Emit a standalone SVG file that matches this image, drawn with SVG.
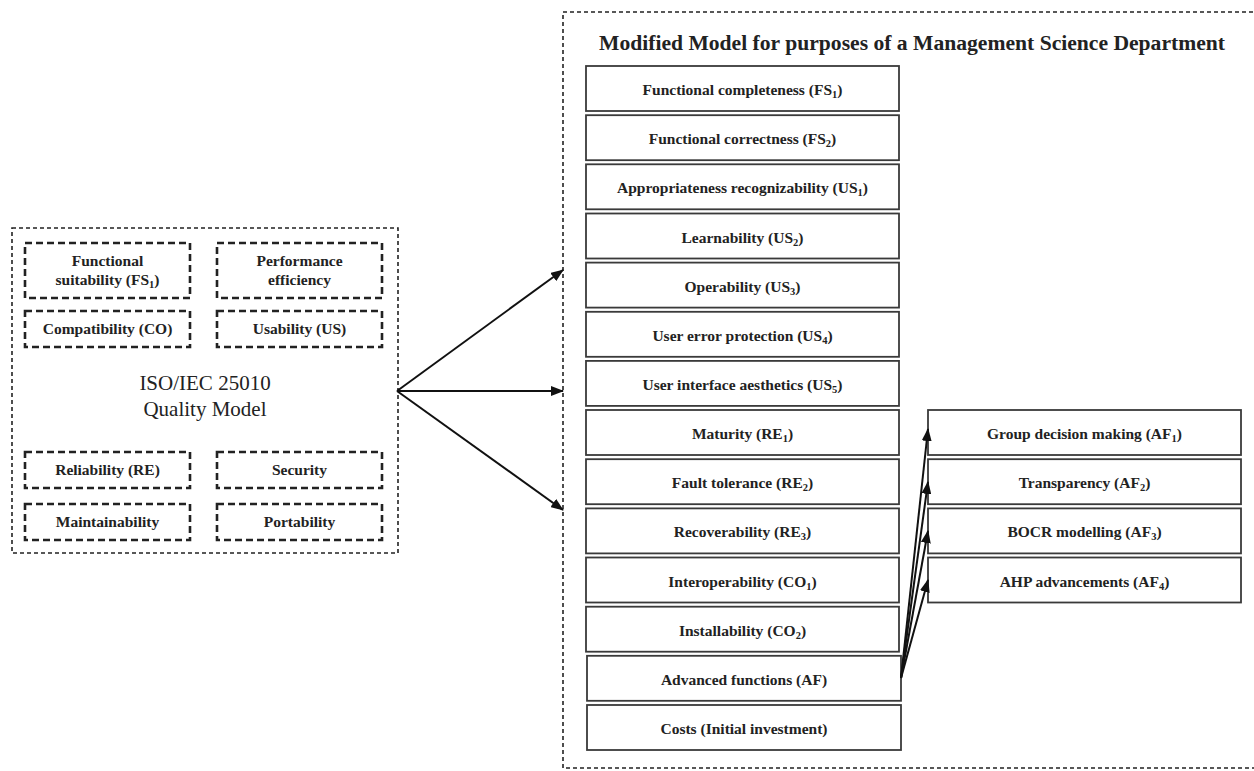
<svg xmlns="http://www.w3.org/2000/svg" width="1254" height="771" viewBox="0 0 1254 771">
<defs>
<marker id="ah" markerWidth="13" markerHeight="10" refX="12" refY="5" orient="auto" markerUnits="userSpaceOnUse">
<path d="M0,0 L13,5 L0,10 Z" fill="#111"/>
</marker>
<style>
.outer{fill:none;stroke:#222;stroke-width:1.6;stroke-dasharray:4 3}
.inner{fill:#fff;stroke:#222;stroke-width:2.6;stroke-dasharray:7 4}
.box{fill:#fff;stroke:#3a3a3a;stroke-width:1.8}
.t{font-family:"Liberation Serif","Times New Roman",serif;font-weight:bold;font-size:15.5px;fill:#222;text-anchor:middle}
.c{font-family:"Liberation Serif","Times New Roman",serif;font-size:21px;fill:#222;text-anchor:middle}
.title{font-family:"Liberation Serif","Times New Roman",serif;font-weight:bold;font-size:20px;fill:#222}
.arr{stroke:#111;stroke-width:2;fill:none;marker-end:url(#ah)}
.s{font-size:10.5px}
</style>
</defs>
<rect width="1254" height="771" fill="#fff"/>

<!-- Left: ISO/IEC 25010 -->
<g id="iso-model">
<rect class="outer" x="12" y="228" width="386" height="325"/>
<text class="c" x="205" y="390">ISO/IEC 25010</text>
<text class="c" x="205" y="416">Quality Model</text>
</g>
<g id="fs">
<rect class="inner" x="25" y="243" width="165" height="55"/>
<text class="t" x="107.5" y="266">Functional</text>
<text class="t" x="107.5" y="285">suitability (FS<tspan class="s" dy="3">1</tspan><tspan dy="-3">)</tspan></text>
</g>
<g id="pe">
<rect class="inner" x="217" y="243" width="165" height="55"/>
<text class="t" x="299.5" y="266">Performance</text>
<text class="t" x="299.5" y="285">efficiency</text>
</g>
<g id="co">
<rect class="inner" x="25" y="311" width="165" height="36"/>
<text class="t" x="107.5" y="334">Compatibility (CO)</text>
</g>
<g id="us">
<rect class="inner" x="217" y="311" width="165" height="36"/>
<text class="t" x="299.5" y="334">Usability (US)</text>
</g>
<g id="re">
<rect class="inner" x="25" y="452" width="165" height="36"/>
<text class="t" x="107.5" y="475">Reliability (RE)</text>
</g>
<g id="sec">
<rect class="inner" x="217" y="452" width="165" height="36"/>
<text class="t" x="299.5" y="475">Security</text>
</g>
<g id="mai">
<rect class="inner" x="25" y="504" width="165" height="36"/>
<text class="t" x="107.5" y="527">Maintainability</text>
</g>
<g id="por">
<rect class="inner" x="217" y="504" width="165" height="36"/>
<text class="t" x="299.5" y="527">Portability</text>
</g>

<!-- Right: Modified model -->
<g id="modified-model">
<rect class="outer" x="563" y="12" width="700" height="756"/>
<text class="title" x="599" y="50" textLength="626" lengthAdjust="spacingAndGlyphs">Modified Model for purposes of a Management Science Department</text>
</g>
<g id="fs1"><rect class="box" x="586" y="66" width="313" height="45"/><text class="t" x="742.5" y="95">Functional completeness (FS<tspan class="s" dy="3">1</tspan><tspan dy="-3">)</tspan></text></g>
<g id="fs2"><rect class="box" x="586" y="115.2" width="313" height="45"/><text class="t" x="742.5" y="144.2">Functional correctness (FS<tspan class="s" dy="3">2</tspan><tspan dy="-3">)</tspan></text></g>
<g id="us1"><rect class="box" x="586" y="164.3" width="313" height="45"/><text class="t" x="742.5" y="193.3">Appropriateness recognizability (US<tspan class="s" dy="3">1</tspan><tspan dy="-3">)</tspan></text></g>
<g id="us2"><rect class="box" x="586" y="213.5" width="313" height="45"/><text class="t" x="742.5" y="242.5">Learnability (US<tspan class="s" dy="3">2</tspan><tspan dy="-3">)</tspan></text></g>
<g id="us3"><rect class="box" x="586" y="262.6" width="313" height="45"/><text class="t" x="742.5" y="291.6">Operability (US<tspan class="s" dy="3">3</tspan><tspan dy="-3">)</tspan></text></g>
<g id="us4"><rect class="box" x="586" y="311.8" width="313" height="45"/><text class="t" x="742.5" y="340.8">User error protection (US<tspan class="s" dy="3">4</tspan><tspan dy="-3">)</tspan></text></g>
<g id="us5"><rect class="box" x="586" y="360.9" width="313" height="45"/><text class="t" x="742.5" y="389.9">User interface aesthetics (US<tspan class="s" dy="3">5</tspan><tspan dy="-3">)</tspan></text></g>
<g id="re1"><rect class="box" x="586" y="410" width="313" height="45"/><text class="t" x="742.5" y="439">Maturity (RE<tspan class="s" dy="3">1</tspan><tspan dy="-3">)</tspan></text></g>
<g id="re2"><rect class="box" x="586" y="459.2" width="313" height="45"/><text class="t" x="742.5" y="488.2">Fault tolerance (RE<tspan class="s" dy="3">2</tspan><tspan dy="-3">)</tspan></text></g>
<g id="re3"><rect class="box" x="586" y="508.4" width="313" height="45"/><text class="t" x="742.5" y="537.4">Recoverability (RE<tspan class="s" dy="3">3</tspan><tspan dy="-3">)</tspan></text></g>
<g id="co1"><rect class="box" x="586" y="557.5" width="313" height="45"/><text class="t" x="742.5" y="586.5">Interoperability (CO<tspan class="s" dy="3">1</tspan><tspan dy="-3">)</tspan></text></g>
<g id="co2"><rect class="box" x="586" y="606.7" width="313" height="45"/><text class="t" x="742.5" y="635.7">Installability (CO<tspan class="s" dy="3">2</tspan><tspan dy="-3">)</tspan></text></g>
<g id="af"><rect class="box" x="587" y="655.8" width="314" height="45"/><text class="t" x="744" y="684.8">Advanced functions (AF)</text></g>
<g id="costs"><rect class="box" x="587" y="705" width="314" height="45"/><text class="t" x="744" y="734">Costs (Initial investment)</text></g>

<g id="af1"><rect class="box" x="928" y="410" width="313" height="45"/><text class="t" x="1084.5" y="439">Group decision making (AF<tspan class="s" dy="3">1</tspan><tspan dy="-3">)</tspan></text></g>
<g id="af2"><rect class="box" x="928" y="459.2" width="313" height="45"/><text class="t" x="1084.5" y="488.2">Transparency (AF<tspan class="s" dy="3">2</tspan><tspan dy="-3">)</tspan></text></g>
<g id="af3"><rect class="box" x="928" y="508.4" width="313" height="45"/><text class="t" x="1084.5" y="537.4">BOCR modelling (AF<tspan class="s" dy="3">3</tspan><tspan dy="-3">)</tspan></text></g>
<g id="af4"><rect class="box" x="928" y="557.5" width="313" height="45"/><text class="t" x="1084.5" y="586.5">AHP advancements (AF<tspan class="s" dy="3">4</tspan><tspan dy="-3">)</tspan></text></g>

<g id="connectors">
<line class="arr" x1="397" y1="391" x2="563" y2="270"/>
<line class="arr" x1="397" y1="391" x2="563" y2="391"/>
<line class="arr" x1="397" y1="391" x2="563" y2="510"/>
<line class="arr" x1="901" y1="678" x2="928" y2="429"/>
<line class="arr" x1="901" y1="678" x2="928" y2="482"/>
<line class="arr" x1="901" y1="678" x2="928" y2="531"/>
<line class="arr" x1="901" y1="678" x2="928" y2="580"/>
</g>
</svg>
